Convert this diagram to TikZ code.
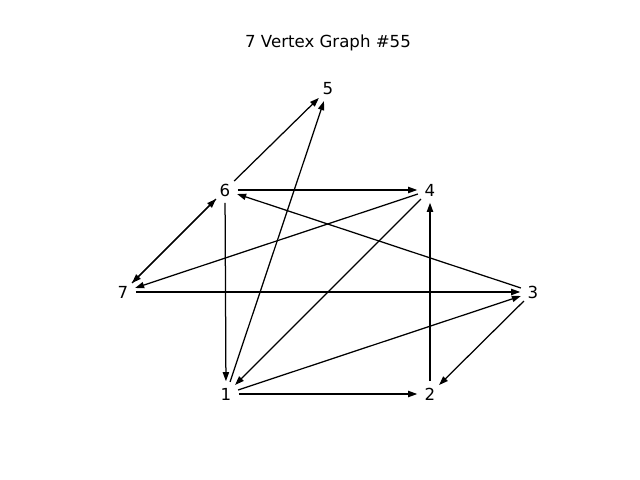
\documentclass[tikz,border=0pt]{standalone}
\usepackage{fontspec}
\setmainfont{DejaVu Sans}
\usetikzlibrary{arrows.meta}

\begin{document}
\begin{tikzpicture}[x=0.72bp,y=-0.72bp,font=\fontsize{12}{14}\selectfont,
  vertex/.style={circle,minimum size=18bp,inner sep=0pt},
  edge/.style={line width=0.9bp,-{Triangle[length=6.5bp,width=4.5bp]}}]
\useasboundingbox(0,0)rectangle(640,480);
\node(T)at(328,43){7 Vertex Graph \#55};
%%vertices
\foreach \n/\x/\y in {5/328/89,6/225/190,4/430/190,7/123/292,3/533/292,1/226/394,2/430/394}
\node[vertex](V\n)at(\x,\y){\n};
%%edges
\foreach \a/\b in {6/5,1/5,6/4,4/7,4/1,3/6,7/3,6/1,6/7,7/6,1/3,3/2,2/4,1/2}
\draw[edge](V\a)--(V\b);
\end{tikzpicture}
\end{document}
